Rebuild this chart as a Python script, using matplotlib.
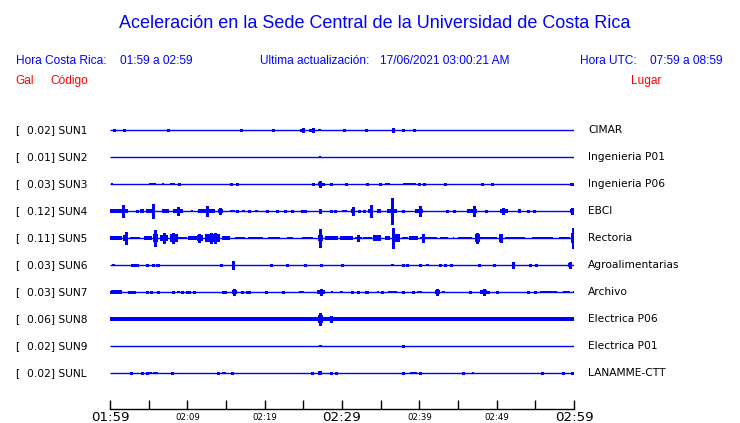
import matplotlib
matplotlib.use("Agg")
import matplotlib.pyplot as plt
import matplotlib.transforms as mtransforms

# station info (top to bottom)
codes = ["SUN1", "SUN2", "SUN3", "SUN4", "SUN5", "SUN6", "SUN7", "SUN8", "SUN9", "SUNL"]
gal = [0.02, 0.01, 0.03, 0.12, 0.11, 0.03, 0.03, 0.06, 0.02, 0.02]
places = ["CIMAR", "Ingenieria P01", "Ingenieria P06", "EBCI", "Rectoria",
          "Agroalimentarias", "Archivo", "Electrica P06", "Electrica P01", "LANAMME-CTT"]

# x axis: minutes after 01:59 local time
big_ticks = [0, 30, 60]
big_labels = ["01:59", "02:29", "02:59"]
small_ticks = [10, 20, 40, 50]
small_labels = ["02:09", "02:19", "02:39", "02:49"]

# spikes = (minute, half amplitude), bursts = (start, end, half amplitude)
# amplitudes are in units of the trace spacing
sun1_spikes = [(0.56, 0.05), (1.85, 0.05), (7.54, 0.05), (16.98, 0.05), (21.12, 0.03), (24.7, 0.05),
               (24.92, 0.085), (25.9, 0.05), (26.29, 0.09), (30.3, 0.05), (33.15, 0.05), (36.56, 0.085),
               (37.93, 0.03), (39.35, 0.05)]
sun1_bursts = [(26.94, 27.3, 0.055)]

sun2_spikes = []
sun2_bursts = [(27.0, 27.3, 0.05)]

sun3_spikes = [(8.92, 0.05), (15.69, 0.03), (16.46, 0.03), (26.29, 0.05), (27.12, 0.12), (27.58, 0.05),
               (28.54, 0.05), (30.52, 0.03), (33.19, 0.05), (34.92, 0.04), (39.96, 0.05), (40.6, 0.05),
               (43.36, 0.03), (48.14, 0.03), (49.36, 0.05), (59.57, 0.05), (59.78, 0.05)]
sun3_bursts = [(0.13, 0.43, 0.05), (5.04, 5.91, 0.055), (6.76, 6.94, 0.05), (7.76, 8.41, 0.055),
               (26.94, 27.38, 0.07), (35.56, 36.21, 0.04), (37.93, 39.53, 0.055)]

sun4_spikes = [(1.72, 0.22), (3.45, 0.05), (5.52, 0.26), (8.83, 0.15), (12.5, 0.17), (14.22, 0.12),
               (16.38, 0.05), (18.01, 0.05), (20.34, 0.05), (21.55, 0.05), (22.63, 0.05), (23.49, 0.05),
               (24.79, 0.05), (25.22, 0.05), (27.16, 0.09), (28.58, 0.05), (29.1, 0.05), (31.38, 0.13),
               (32.24, 0.05), (32.85, 0.05), (33.75, 0.22), (36.43, 0.47), (37.93, 0.05), (40.09, 0.17),
               (43.54, 0.05), (44.52, 0.05), (47.11, 0.2), (48.58, 0.05), (50.8, 0.11), (54.1, 0.05),
               (54.87, 0.05), (59.7, 0.12)]
sun4_bursts = [(0.0, 2.37, 0.075), (3.88, 4.44, 0.063), (4.62, 5.82, 0.09), (6.76, 7.63, 0.075),
               (8.19, 9.48, 0.09), (10.47, 10.77, 0.05), (11.42, 12.28, 0.075), (12.28, 13.58, 0.085),
               (13.92, 14.65, 0.075), (15.52, 16.16, 0.055), (17.03, 17.46, 0.05), (18.75, 19.18, 0.055),
               (30.04, 30.61, 0.055), (31.1, 31.6, 0.075), (33.3, 34.05, 0.085), (34.5, 35.1, 0.063),
               (35.78, 37.07, 0.085), (39.44, 40.5, 0.075), (46.13, 47.5, 0.085), (50.43, 51.5, 0.09),
               (52.8, 53.2, 0.063), (59.48, 60.0, 0.085)]

sun5_spikes = [(2.03, 0.24), (5.82, 0.31), (6.98, 0.17), (8.19, 0.2), (11.51, 0.15), (13.06, 0.185),
               (13.58, 0.17), (27.16, 0.34), (32.11, 0.11), (36.63, 0.38), (40.44, 0.13), (47.5, 0.185),
               (50.6, 0.15), (59.85, 0.37)]
sun5_bursts = [(0.0, 1.51, 0.075), (1.72, 2.37, 0.11), (2.59, 3.88, 0.055), (4.44, 5.39, 0.075),
               (5.52, 6.25, 0.15), (6.47, 7.54, 0.12), (7.76, 8.75, 0.13), (8.83, 9.92, 0.055),
               (10.05, 11.21, 0.075), (11.21, 12.07, 0.11), (12.28, 14.22, 0.13), (14.44, 15.52, 0.075),
               (16.16, 17.46, 0.055), (17.89, 19.82, 0.055), (20.47, 21.98, 0.055), (22.85, 23.7, 0.055),
               (24.79, 26.29, 0.055), (26.94, 27.58, 0.11), (27.8, 29.52, 0.075), (29.74, 31.46, 0.075),
               (31.68, 32.55, 0.055), (32.76, 33.84, 0.055), (34.05, 35.04, 0.093), (35.56, 36.21, 0.075),
               (36.43, 37.5, 0.15), (37.72, 38.57, 0.055), (38.7, 39.87, 0.075), (40.09, 42.24, 0.055),
               (42.67, 43.75, 0.055), (44.3, 44.5, 0.055), (45.04, 46.77, 0.055), (47.2, 47.85, 0.13),
               (47.85, 50.0, 0.055), (50.34, 50.86, 0.13), (51.08, 53.66, 0.055), (54.53, 57.33, 0.055),
               (58.0, 59.48, 0.055), (59.6, 60.0, 0.2)]

sun6_spikes = [(2.88, 0.05), (3.14, 0.05), (3.53, 0.05), (4.82, 0.04), (5.6, 0.03), (6.04, 0.05),
               (6.25, 0.05), (14.32, 0.05), (15.94, 0.13), (20.78, 0.05), (22.93, 0.05), (25.22, 0.05),
               (27.29, 0.05), (30.04, 0.05), (29.96, 0.05), (37.93, 0.05), (38.37, 0.05), (40.09, 0.03),
               (42.67, 0.05), (43.32, 0.05), (44.06, 0.05), (47.76, 0.03), (49.7, 0.05), (52.15, 0.11),
               (54.31, 0.05), (55.09, 0.05), (59.48, 0.12)]
sun6_bursts = [(0.22, 0.65, 0.05), (15.74, 16.16, 0.055), (36.4, 36.7, 0.05), (40.86, 41.29, 0.055),
               (59.27, 59.7, 0.065)]

sun7_spikes = [(0.0, 0.04), (2.46, 0.03), (2.88, 0.05), (3.14, 0.05), (4.82, 0.03), (5.26, 0.05),
               (6.25, 0.05), (8.19, 0.05), (9.27, 0.05), (9.92, 0.05), (10.25, 0.05), (10.9, 0.05),
               (14.65, 0.04), (14.87, 0.04), (16.07, 0.11), (17.03, 0.05), (17.68, 0.05), (18.01, 0.05),
               (20.13, 0.05), (22.41, 0.05), (27.29, 0.11), (31.25, 0.04), (32.11, 0.05), (33.1, 0.05),
               (33.27, 0.05), (35.21, 0.05), (37.93, 0.05), (39.22, 0.05), (42.32, 0.12), (46.55, 0.04),
               (48.36, 0.093), (48.92, 0.05), (50.08, 0.05), (54.1, 0.05), (54.96, 0.05)]
sun7_bursts = [(0.13, 1.59, 0.063), (8.63, 9.05, 0.055), (15.82, 16.38, 0.063), (24.44, 25.09, 0.055),
               (26.73, 27.8, 0.075), (28.58, 28.88, 0.055), (29.74, 30.09, 0.055), (34.5, 34.75, 0.055),
               (35.91, 37.07, 0.055), (39.74, 40.31, 0.055), (42.03, 42.67, 0.075), (42.89, 43.32, 0.055),
               (47.85, 48.71, 0.075), (55.6, 57.76, 0.055), (58.62, 59.48, 0.04), (59.91, 60.0, 0.055)]

sun8_spikes = [(27.16, 0.22), (28.58, 0.11)]
sun8_bursts = [(0.0, 60.0, 0.075), (26.94, 27.58, 0.13)]

sun9_spikes = [(37.93, 0.03)]
sun9_bursts = [(27.03, 27.38, 0.05)]

sunl_spikes = [(2.72, 0.05), (4.18, 0.04), (4.74, 0.04), (7.98, 0.05), (14.0, 0.04), (15.74, 0.05),
               (26.16, 0.05), (28.54, 0.04), (29.23, 0.04), (37.93, 0.05), (40.09, 0.04), (45.69, 0.05),
               (55.9, 0.05), (58.54, 0.05), (59.78, 0.05)]
sunl_bursts = [(4.95, 5.39, 0.05), (5.6, 6.17, 0.05), (7.9, 8.06, 0.05), (14.52, 14.96, 0.05),
               (26.94, 27.38, 0.085), (38.79, 39.74, 0.055), (46.85, 47.1, 0.055)]

spikes = [sun1_spikes, sun2_spikes, sun3_spikes, sun4_spikes, sun5_spikes,
          sun6_spikes, sun7_spikes, sun8_spikes, sun9_spikes, sunl_spikes]
bursts = [sun1_bursts, sun2_bursts, sun3_bursts, sun4_bursts, sun5_bursts,
          sun6_bursts, sun7_bursts, sun8_bursts, sun9_bursts, sunl_bursts]

BLUE = "#0000ff"
RED = "#ff0000"
HEAD_FONT = ["Liberation Sans", "DejaVu Sans"]

W, H = 740, 423
fig = plt.figure(figsize=(W / 100, H / 100), dpi=100)
fig.patch.set_facecolor("white")

# axes spans 110..574 px horizontally, 117..409 px from top vertically
ax = fig.add_axes([110 / W, (H - 409) / H, 464 / W, (409 - 117) / H])
ax.set_xlim(0, 60)
ax.set_ylim(-(409 - 130) / 27, (130 - 117) / 27)

for i in range(len(codes)):
    y0 = -i
    ax.plot([0, 60], [y0, y0], color=BLUE, lw=1.0, solid_capstyle="butt")
    for t0, t1, a in bursts[i]:
        ax.fill_between([t0, t1], y0 - a, y0 + a, color=BLUE, lw=0, antialiased=False)
    if spikes[i]:
        ts = [s[0] for s in spikes[i]]
        lo = [y0 - s[1] for s in spikes[i]]
        hi = [y0 + s[1] for s in spikes[i]]
        ax.vlines(ts, lo, hi, color=BLUE, lw=1.0, antialiased=False)

for s in ["top", "left", "right"]:
    ax.spines[s].set_visible(False)
ax.spines["bottom"].set_linewidth(1.0)
ax.set_yticks([])

# big labels on the major ticks, small labels (and the unlabeled 5-min ticks) on minor ones
ax.set_xticks(big_ticks)
ax.set_xticklabels(big_labels, fontsize=9.6)
minor_pos = [m for m in range(5, 60, 5) if m not in big_ticks]
minor_lab = [small_labels[small_ticks.index(m)] if m in small_ticks else "" for m in minor_pos]
ax.set_xticks(minor_pos, minor=True)
ax.set_xticklabels(minor_lab, minor=True, fontsize=6.2)
ax.tick_params(axis="x", which="major", direction="in", length=6.5, width=1.0, pad=1.4)
ax.tick_params(axis="x", which="minor", direction="in", length=6.5, width=1.0, pad=3.0)

# station labels
trans = mtransforms.blended_transform_factory(fig.transFigure, ax.transData)
for i in range(len(codes)):
    ax.text(15 / W, -i, "[", transform=trans, fontsize=7.7, va="center", ha="left", clip_on=False)
    ax.text(27 / W, -i, f"{gal[i]:.2f}] {codes[i]}", transform=trans, fontsize=7.7,
            va="center", ha="left", clip_on=False)
    ax.text(588 / W, -i, places[i], transform=trans, fontsize=7.7,
            va="center", ha="left", clip_on=False)

# header
def px(x, y):
    return x / W, 1 - y / H

fig.text(*px(375, 23), "Aceleración en la Sede Central de la Universidad de Costa Rica",
         color=BLUE, fontsize=13, family=HEAD_FONT, ha="center", va="center")
head_size = 8.6
fig.text(*px(15.5, 61), "Hora Costa Rica:", color=BLUE, fontsize=head_size, family=HEAD_FONT, va="center")
fig.text(*px(120, 61), "01:59 a 02:59", color=BLUE, fontsize=head_size, family=HEAD_FONT, va="center")
fig.text(*px(260.5, 61), "Ultima actualización:", color=BLUE, fontsize=head_size, family=HEAD_FONT, va="center")
fig.text(*px(380.5, 61), "17/06/2021 03:00:21 AM", color=BLUE, fontsize=head_size, family=HEAD_FONT, va="center")
fig.text(*px(580.5, 61), "Hora UTC:", color=BLUE, fontsize=head_size, family=HEAD_FONT, va="center")
fig.text(*px(650.5, 61), "07:59 a 08:59", color=BLUE, fontsize=head_size, family=HEAD_FONT, va="center")
fig.text(*px(15, 81), "Gal", color=RED, fontsize=head_size, family=HEAD_FONT, va="center")
fig.text(*px(50, 81), "Código", color=RED, fontsize=head_size, family=HEAD_FONT, va="center")
fig.text(*px(630.5, 81), "Lugar", color=RED, fontsize=head_size, family=HEAD_FONT, va="center")

fig.savefig("out.png", dpi=100)
